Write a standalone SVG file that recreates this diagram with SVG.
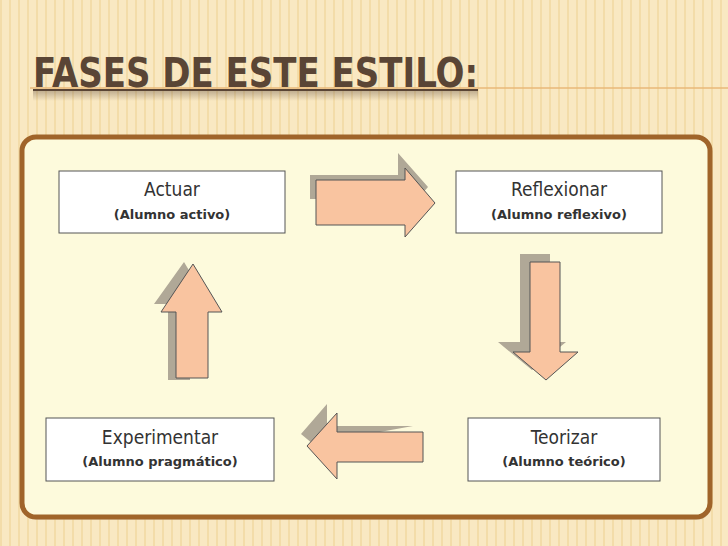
<svg xmlns="http://www.w3.org/2000/svg" width="728" height="546" viewBox="0 0 728 546">
<defs>
<pattern id="st" width="9" height="546" patternUnits="userSpaceOnUse"><rect width="9" height="546" fill="#f9e8c2"/><rect x="0" width="2" height="546" fill="#f3dca9"/></pattern>
<linearGradient id="fade" x1="0" y1="0" x2="0" y2="1"><stop offset="0" stop-color="#5a4535" stop-opacity="0.35"/><stop offset="1" stop-color="#5a4535" stop-opacity="0"/></linearGradient>
</defs>
<style>
.box{fill:#fff;stroke:#555;stroke-width:1}
.t1{font-family:"DejaVu Sans Condensed","DejaVu Sans",sans-serif;font-size:19px;fill:#333;text-anchor:middle}
.t2{font-family:"DejaVu Sans","Liberation Sans",sans-serif;font-size:13px;font-weight:bold;fill:#333;text-anchor:middle}
.arr{fill:#f9c4a0;stroke:#555;stroke-width:1}
.sh{fill:#b0a897}
</style>
<rect width="728" height="546" fill="url(#st)"/>
<line x1="30" y1="88" x2="728" y2="88" stroke="#e8b878" stroke-width="1.5"/>
<text x="33" y="87" font-family="'DejaVu Sans Condensed','Liberation Sans Narrow',sans-serif" font-weight="bold" font-size="40" fill="#5a4535" textLength="445" lengthAdjust="spacingAndGlyphs">FASES DE ESTE ESTILO:</text>
<rect x="33" y="89" width="445" height="2" fill="#5a4535"/>
<rect x="33" y="91" width="445" height="10" fill="url(#fade)"/>
<rect x="25" y="140" width="686" height="380" rx="14" fill="#d8ccb0" opacity="0.6"/>
<rect x="22" y="137" width="688" height="380" rx="14" fill="#fdfadc" stroke="#a0642a" stroke-width="5"/>
<g id="connectors">
<path class="sh" d="M310 175h88v-22l30 34-30 34v-22h-88z"/>
<path class="arr" d="M316 180h89v-12l30 35-30 34v-12h-89z"/>
<path class="sh" d="M520 254h30v88h16l-34 28-34-28h22z"/>
<path class="arr" d="M530 262h30v90h18l-32 28-33-28h17z"/>
<path class="sh" d="M168 304h-14l30-42 6 10v108h-22z"/>
<path class="arr" d="M176 378v-66h-15l32-48 29 48h-14v66z"/>
<path class="sh" d="M413 426h-86v-22l-26 30 12 10z"/>
<path class="arr" d="M423 432v30h-86v17l-30-33 30-33v19z"/>
</g>
<g id="actuar"><rect class="box" x="59" y="171" width="226" height="62"/><text class="t1" x="172" y="196">Actuar</text><text class="t2" x="172" y="219">(Alumno activo)</text></g>
<g id="reflexionar"><rect class="box" x="456" y="171" width="206" height="62"/><text class="t1" x="559" y="196">Reflexionar</text><text class="t2" x="559" y="219">(Alumno reflexivo)</text></g>
<g id="experimentar"><rect class="box" x="46" y="418" width="228" height="63"/><text class="t1" x="160" y="444">Experimentar</text><text class="t2" x="160" y="466">(Alumno pragmático)</text></g>
<g id="teorizar"><rect class="box" x="468" y="418" width="192" height="63"/><text class="t1" x="564" y="444">Teorizar</text><text class="t2" x="564" y="466">(Alumno teórico)</text></g>
</svg>
